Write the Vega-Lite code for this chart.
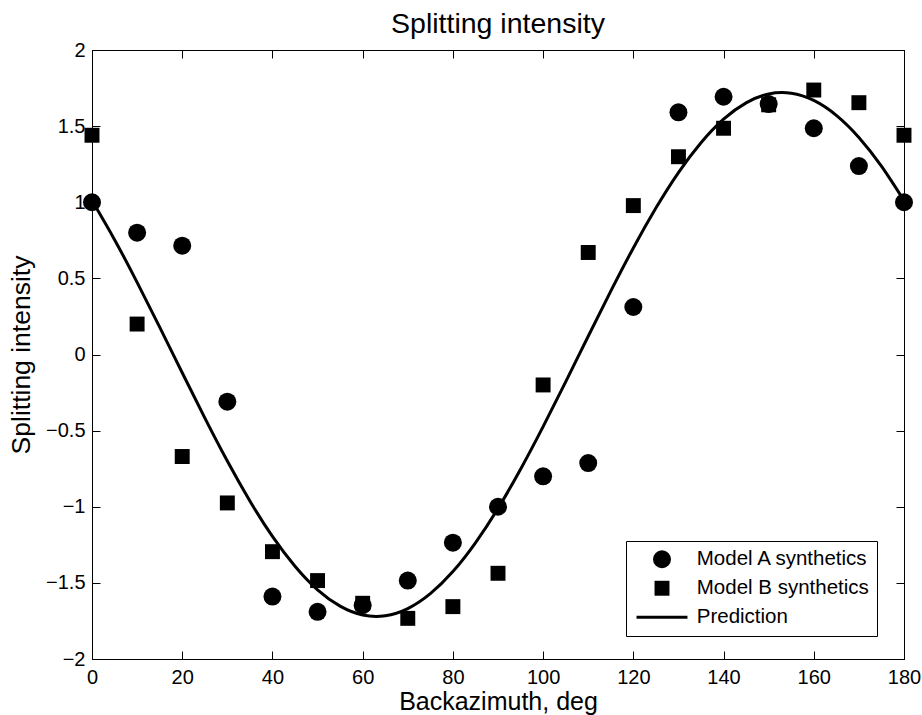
{
  "$schema": "https://vega.github.io/schema/vega-lite/v6.json",
  "width": 812,
  "height": 609,
  "autosize": "none",
  "padding": {"left": 92, "top": 50, "right": 18, "bottom": 56},
  "background": "white",
  "title": {"text": "Splitting intensity", "fontSize": 28.5, "font": "Liberation Sans", "fontWeight": "normal", "color": "black", "offset": 2, "anchor": "middle"},
  "config": {
    "font": "Liberation Sans",
    "view": {"stroke": "black", "strokeWidth": 1},
    "axis": {"grid": false, "domainColor": "black", "tickColor": "black", "labelColor": "black", "titleColor": "black", "labelFont": "Liberation Sans", "titleFont": "Liberation Sans", "titleFontWeight": "normal", "labelFontSize": 20, "tickSize": -8, "tickWidth": 1, "domainWidth": 1, "labelFlush": false, "labelOverlap": false}
  },
  "datasets": {
    "pts": [
      {"x": 0, "y": 1.0, "series": "Model A synthetics"},
      {"x": 10, "y": 0.80, "series": "Model A synthetics"},
      {"x": 20, "y": 0.715, "series": "Model A synthetics"},
      {"x": 30, "y": -0.31, "series": "Model A synthetics"},
      {"x": 40, "y": -1.59, "series": "Model A synthetics"},
      {"x": 50, "y": -1.69, "series": "Model A synthetics"},
      {"x": 60, "y": -1.647, "series": "Model A synthetics"},
      {"x": 70, "y": -1.485, "series": "Model A synthetics"},
      {"x": 80, "y": -1.236, "series": "Model A synthetics"},
      {"x": 90, "y": -1.0, "series": "Model A synthetics"},
      {"x": 100, "y": -0.80, "series": "Model A synthetics"},
      {"x": 110, "y": -0.713, "series": "Model A synthetics"},
      {"x": 120, "y": 0.312, "series": "Model A synthetics"},
      {"x": 130, "y": 1.591, "series": "Model A synthetics"},
      {"x": 140, "y": 1.693, "series": "Model A synthetics"},
      {"x": 150, "y": 1.645, "series": "Model A synthetics"},
      {"x": 160, "y": 1.486, "series": "Model A synthetics"},
      {"x": 170, "y": 1.238, "series": "Model A synthetics"},
      {"x": 180, "y": 1.0, "series": "Model A synthetics"},
      {"x": 0, "y": 1.44, "series": "Model B synthetics"},
      {"x": 10, "y": 0.20, "series": "Model B synthetics"},
      {"x": 20, "y": -0.67, "series": "Model B synthetics"},
      {"x": 30, "y": -0.975, "series": "Model B synthetics"},
      {"x": 40, "y": -1.295, "series": "Model B synthetics"},
      {"x": 50, "y": -1.485, "series": "Model B synthetics"},
      {"x": 60, "y": -1.634, "series": "Model B synthetics"},
      {"x": 70, "y": -1.733, "series": "Model B synthetics"},
      {"x": 80, "y": -1.656, "series": "Model B synthetics"},
      {"x": 90, "y": -1.437, "series": "Model B synthetics"},
      {"x": 100, "y": -0.20, "series": "Model B synthetics"},
      {"x": 110, "y": 0.67, "series": "Model B synthetics"},
      {"x": 120, "y": 0.978, "series": "Model B synthetics"},
      {"x": 130, "y": 1.299, "series": "Model B synthetics"},
      {"x": 140, "y": 1.486, "series": "Model B synthetics"},
      {"x": 150, "y": 1.64, "series": "Model B synthetics"},
      {"x": 160, "y": 1.737, "series": "Model B synthetics"},
      {"x": 170, "y": 1.654, "series": "Model B synthetics"},
      {"x": 180, "y": 1.44, "series": "Model B synthetics"}
    ],
    "pred": [
      {"x": 0, "y": 1.011}, {"x": 5, "y": 0.754}, {"x": 10, "y": 0.474}, {"x": 15, "y": 0.180},
      {"x": 20, "y": -0.120}, {"x": 25, "y": -0.416}, {"x": 30, "y": -0.700}, {"x": 35, "y": -0.962},
      {"x": 40, "y": -1.195}, {"x": 45, "y": -1.391}, {"x": 50, "y": -1.546}, {"x": 55, "y": -1.653},
      {"x": 60, "y": -1.711}, {"x": 65, "y": -1.716}, {"x": 70, "y": -1.669}, {"x": 75, "y": -1.571},
      {"x": 80, "y": -1.426}, {"x": 85, "y": -1.237}, {"x": 90, "y": -1.011}, {"x": 95, "y": -0.754},
      {"x": 100, "y": -0.474}, {"x": 105, "y": -0.180}, {"x": 110, "y": 0.120}, {"x": 115, "y": 0.416},
      {"x": 120, "y": 0.700}, {"x": 125, "y": 0.962}, {"x": 130, "y": 1.195}, {"x": 135, "y": 1.391},
      {"x": 140, "y": 1.546}, {"x": 145, "y": 1.653}, {"x": 150, "y": 1.711}, {"x": 155, "y": 1.716},
      {"x": 160, "y": 1.669}, {"x": 165, "y": 1.571}, {"x": 170, "y": 1.426}, {"x": 175, "y": 1.237},
      {"x": 180, "y": 1.011}
    ]
  },
  "layer": [
    {
      "data": {"name": "pred"},
      "mark": {"type": "line", "color": "black", "strokeWidth": 3, "interpolate": "natural"},
      "encoding": {
        "x": {"field": "x", "type": "quantitative", "scale": {"domain": [0, 180], "nice": false, "zero": false},
          "axis": {"orient": "bottom", "values": [0, 20, 40, 60, 80, 100, 120, 140, 160, 180], "format": "d", "title": "Backazimuth, deg", "titleFontSize": 25, "labelPadding": 16, "titlePadding": 2}},
        "y": {"field": "y", "type": "quantitative", "scale": {"domain": [-2, 2], "nice": false, "zero": false},
          "axis": {"orient": "left", "values": [-2, -1.5, -1, -0.5, 0, 0.5, 1, 1.5, 2], "format": "~g", "title": "Splitting intensity", "titleFontSize": 26.5, "labelPadding": 15, "titlePadding": 10}}
      }
    },
    {
      "data": {"name": "pts"},
      "mark": {"type": "point", "filled": true, "opacity": 1, "color": "black", "size": 324},
      "encoding": {
        "x": {"field": "x", "type": "quantitative",
          "axis": {"orient": "top", "values": [0, 20, 40, 60, 80, 100, 120, 140, 160, 180], "labels": false, "title": null}},
        "y": {"field": "y", "type": "quantitative",
          "axis": {"orient": "right", "values": [-2, -1.5, -1, -0.5, 0, 0.5, 1, 1.5, 2], "labels": false, "title": null}},
        "shape": {"field": "series", "type": "nominal",
          "scale": {"domain": ["Model A synthetics", "Model B synthetics", "Prediction"], "range": ["circle", "M-0.83,-0.83H0.83V0.83H-0.83Z", "M-2.83,-0.17H2.83V0.17H-2.83Z"]},
          "legend": {"orient": "none", "legendX": 534, "legendY": 491, "title": null, "strokeColor": "black", "fillColor": "white", "padding": 8, "labelFontSize": 20.5, "labelLimit": 400, "labelColor": "black", "symbolSize": 324, "symbolOffset": 17.75, "labelOffset": 24.5, "rowPadding": 8, "symbolFillColor": "black", "symbolOpacity": 1, "symbolStrokeWidth": 0}}
      }
    }
  ],
  "resolve": {"axis": {"x": "independent", "y": "independent"}}
}
